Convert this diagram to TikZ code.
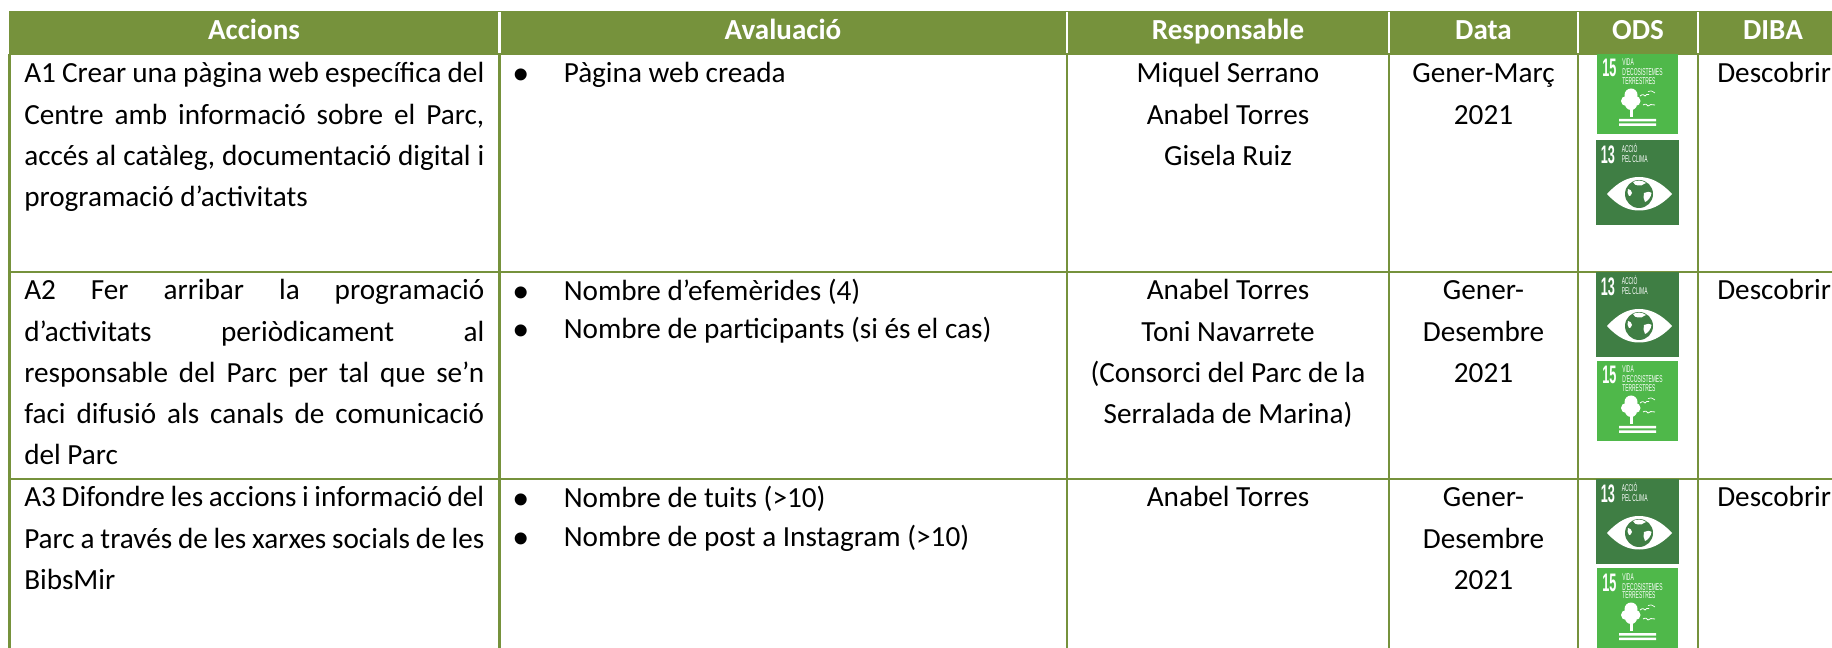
\documentclass[tikz,border=0pt]{standalone}
\usepackage{fontspec}
\setmainfont{Carlito}
\newfontfamily\sdgfont[FakeStretch=0.5]{Liberation Sans}
\newfontfamily\bulletfont{Liberation Sans}
\definecolor{olive}{HTML}{76923C}
\definecolor{goalfifteen}{HTML}{4FB84A}
\definecolor{goalthirteen}{HTML}{3F7E44}
\newcommand{\jl}[1]{\makebox[345pt][s]{#1}\par}
\newcommand{\cellL}[1]{\parbox[t]{345pt}{#1}}
\newcommand{\cellC}[2]{\parbox[t]{#1}{\centering #2}}
\tikzset{
  gridline/.style={draw=olive,line width=1.7pt},
  headsep/.style={draw=white,line width=1.6pt},
  headtext/.style={anchor=base,inner sep=0pt,text=white,font=\fontsize{21.8}{26}\selectfont\bfseries},
  bodytext/.style={anchor=base west,inner sep=0pt,font=\fontsize{21.9}{30.9}\selectfont},
  centertext/.style={anchor=base,inner sep=0pt,font=\fontsize{21.9}{30.9}\selectfont},
  bullet/.style={anchor=base,inner sep=0pt,font=\fontsize{33}{36}\bulletfont},
  sdgsmall/.style={anchor=base west,inner sep=0pt,text=white,font=\fontsize{7.4}{8}\sdgfont},
  sdgnum/.style={anchor=base west,inner sep=0pt,text=white,font=\fontsize{19}{20}\sdgfont\bfseries},
  goal15/.pic={
    \fill[goalfifteen] (0,0) rectangle (81,80);
    \node[sdgnum] (num) at (5,23) {15};
    \node[sdgsmall] (la) at (25,12) {VIDA};
    \node[sdgsmall] (lb) at (25,22) {D’ECOSISTEMES};
    \node[sdgsmall] (lc) at (25,30.5) {TERRESTRES};
    \fill[white] (34,41) circle[radius=6.5] (29,47) circle[radius=5] (38.5,47) circle[radius=5] (34,50) circle[radius=6];
    \fill[white] (33,54) rectangle (35.5,63);
    \fill[white] (22,65) rectangle (59,67.5) (22,69.5) rectangle (59,72);
    \draw[white,line width=.6pt] (43,42) .. controls (46,39.5) and (47,41) .. (48,42) .. controls (49,40.5) and (50,40) .. (52,40.5);
    \draw[white,line width=.5pt] (51,37.5) .. controls (53,36) and (55,37) .. (58,39);
    \draw[white,line width=.6pt] (46,51) .. controls (49,49) and (50,51) .. (51,52) .. controls (52,50.5) and (55,50) .. (58,51);
  },
  goal13/.pic={
    \fill[goalthirteen] (0,0) rectangle (83,85);
    \node[sdgnum] (num) at (4.5,24) {13};
    \node[sdgsmall] (la) at (25.5,13) {ACCIÓ};
    \node[sdgsmall] (lb) at (25.5,23) {PEL CLIMA};
    \fill[white] (11,54) .. controls (22,42) and (32,37) .. (43,37) .. controls (54,37) and (65,42) .. (76,54) .. controls (65,66) and (54,70.5) .. (43,70.5) .. controls (32,70.5) and (22,66) .. (11,54) -- cycle;
    \fill[goalthirteen] (43,54) circle[radius=14];
    \fill[white] (37,42) .. controls (41,40) and (46,40) .. (50,43) .. controls (46,44.5) and (45,47) .. (42,45.5) .. controls (40,46) and (38,44) .. (37,42) -- cycle;
    \fill[white] (48,53) .. controls (50,51.5) and (54,51.5) .. (55.5,53) .. controls (55,57) and (52,61) .. (49,62) .. controls (48,59) and (46.5,56) .. (48,53) -- cycle;
    \fill[white] (32,49) .. controls (34,49) and (35.5,50.5) .. (36,53) .. controls (35.5,55) and (34,56.5) .. (33,56) .. controls (31.5,54) and (31,51.5) .. (32,49) -- cycle;
  }
}
\begin{document}
\begin{tikzpicture}[x=0.75pt,y=-0.75pt]
\useasboundingbox (0,0) rectangle (1832,648);
% header band
\fill[olive] (9,11) rectangle (1832,55);
\foreach \sx in {499.5,1067,1389,1578,1698} \draw[headsep] (\sx,12) -- (\sx,53);
% table rules
\foreach \sx in {9.5,499.5,1067,1389,1578,1698} \draw[gridline] (\sx,54) -- (\sx,648);
\draw[gridline] (9,272) -- (1832,272);
\draw[gridline] (9,479) -- (1832,479);
% header
\node[headtext] (hA) at (254,40) {Accions};
\node[headtext] (hB) at (783,40) {Avaluació};
\node[headtext] (hC) at (1228,40) {Responsable};
\node[headtext] (hD) at (1483.5,40) {Data};
\node[headtext] (hE) at (1638,40) {ODS};
\node[headtext] (hF) at (1773,40) {DIBA};
% accions
\node[bodytext] (a1) at (24,83) {\cellL{\jl{A1 Crear una pàgina web específica del}\jl{Centre amb informació sobre el Parc,}\jl{accés al catàleg, documentació digital i}programació d’activitats}};
\node[bodytext] (a2) at (24,300) {\cellL{\jl{A2 Fer arribar la programació}\jl{d’activitats periòdicament al}\jl{responsable del Parc per tal que se’n}\jl{faci difusió als canals de comunicació}del Parc}};
\node[bodytext] (a3) at (24,507) {\cellL{\jl{A3 Difondre les accions i informació del}\jl{Parc a través de les xarxes socials de les}BibsMir}};
% avaluacio
\node[bullet] (b1) at (521,90) {•};
\node[bodytext] (e1) at (563.5,83) {Pàgina web creada};
\node[bullet] (b2) at (521,307.5) {•};
\node[bodytext] (e2) at (563.5,300.5) {Nombre d’efemèrides (4)};
\node[bullet] (b3) at (521,346) {•};
\node[bodytext] (e3) at (563.5,339) {Nombre de participants (si és el cas)};
\node[bullet] (b4) at (521,514.5) {•};
\node[bodytext] (e4) at (563.5,507.5) {Nombre de tuits (>10)};
\node[bullet] (b5) at (521,553.5) {•};
\node[bodytext] (e5) at (563.5,546.5) {Nombre de post a Instagram (>10)};
% responsable
\node[centertext] (r1) at (1228,83) {\cellC{230pt}{Miquel Serrano\par Anabel Torres\par Gisela Ruiz}};
\node[centertext] (r2) at (1228,300) {\cellC{230pt}{Anabel Torres\par Toni Navarrete\par (Consorci del Parc de la\par Serralada de Marina)}};
\node[centertext] (r3) at (1228,507) {\cellC{230pt}{Anabel Torres}};
% data
\node[centertext] (d1) at (1483.5,83) {\cellC{135pt}{Gener-Març\par 2021}};
\node[centertext] (d2) at (1483.5,300) {\cellC{135pt}{Gener-\par Desembre\par 2021}};
\node[centertext] (d3) at (1483.5,507) {\cellC{135pt}{Gener-\par Desembre\par 2021}};
% ODS
\pic (ia) at (1597,54) {goal15};
\pic (ib) at (1596,140) {goal13};
\pic (ic) at (1596,272) {goal13};
\pic (id) at (1597,361) {goal15};
\pic (ie) at (1596,479) {goal13};
\pic (if) at (1597,568) {goal15};
% DIBA
\node[bodytext] (f1) at (1717,83) {Descobrir};
\node[bodytext] (f2) at (1717,300) {Descobrir};
\node[bodytext] (f3) at (1717,507) {Descobrir};
\end{tikzpicture}
\end{document}
